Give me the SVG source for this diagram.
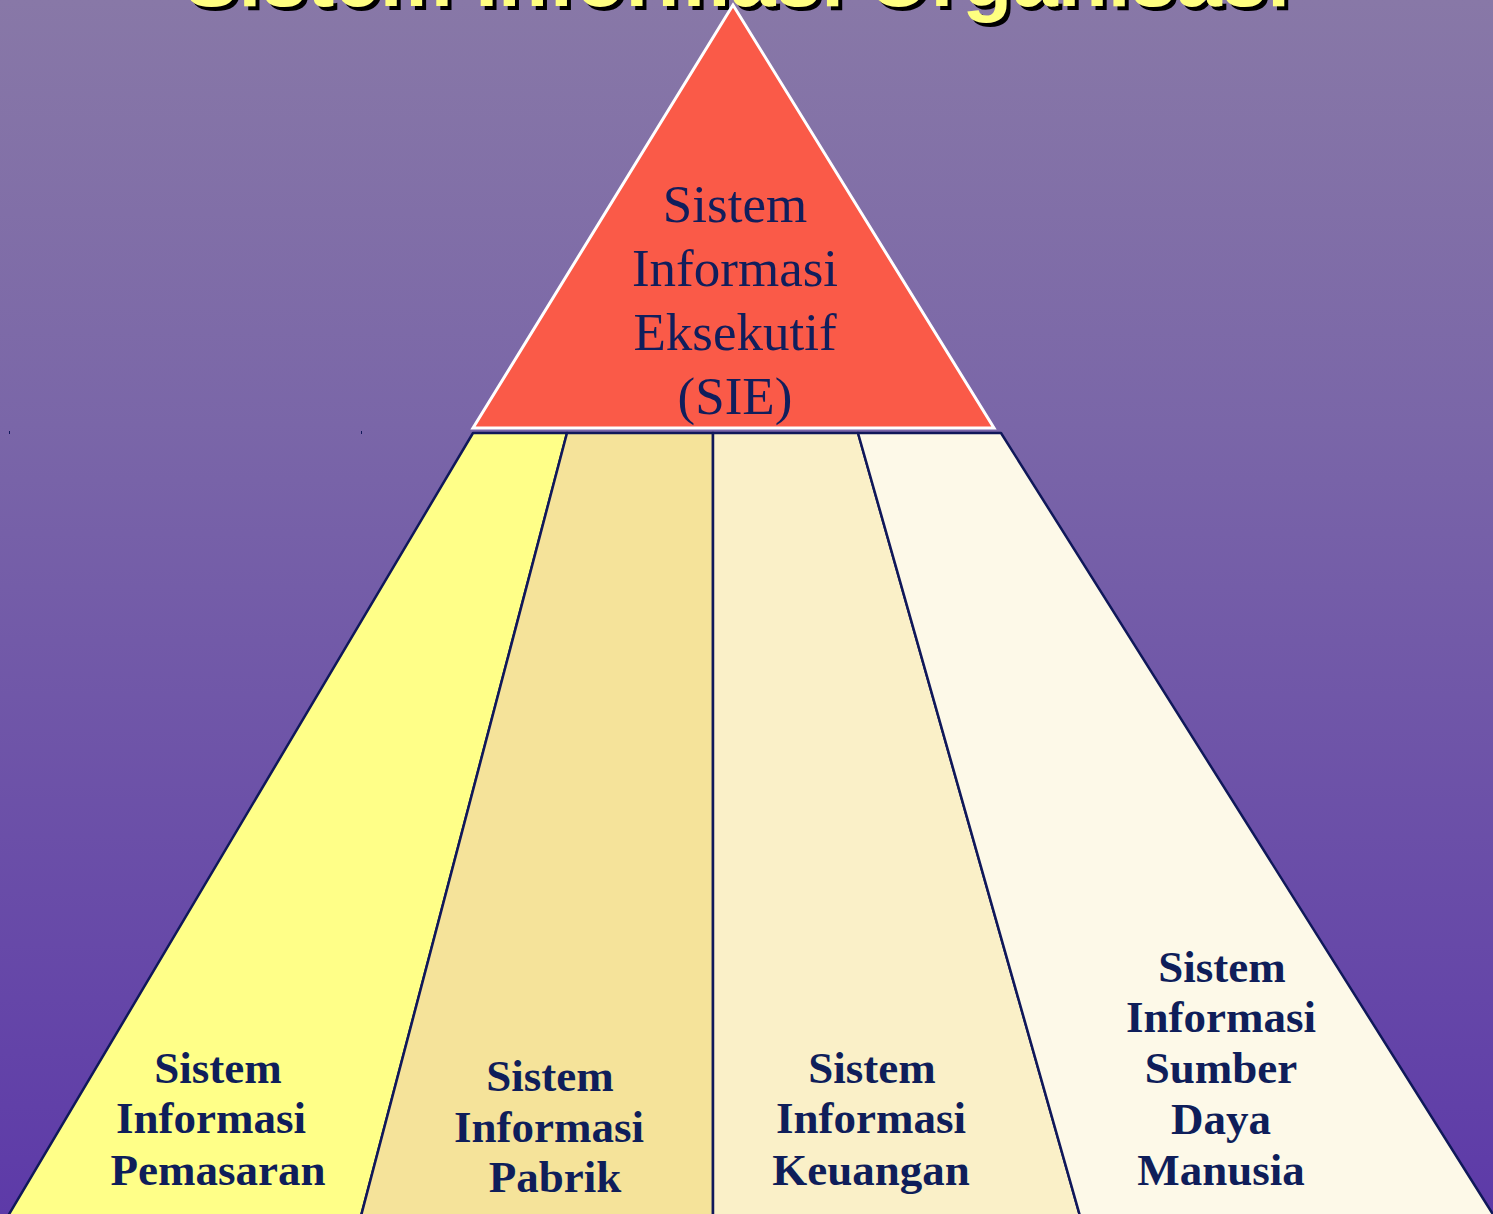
<svg xmlns="http://www.w3.org/2000/svg" width="1493" height="1214" viewBox="0 0 1493 1214">
  <defs>
    <linearGradient id="bg" x1="0" y1="0" x2="0" y2="1">
      <stop offset="0" stop-color="#8878A7"/>
      <stop offset="0.35" stop-color="#7A66A8"/>
      <stop offset="1" stop-color="#5D3AA8"/>
    </linearGradient>
  </defs>
  <style>
    .seg { stroke: #10185A; stroke-width: 2.5; stroke-linejoin: round; }
    .top { font-family: "Liberation Serif", "Times New Roman", serif; font-size: 53px; fill: #101E5C; text-anchor: middle; }
    .lbl { font-family: "Liberation Serif", "Times New Roman", serif; font-weight: bold; font-size: 45px; fill: #0F1E5A; text-anchor: middle; }
    .title { font-family: "Liberation Sans", Arial, sans-serif; font-weight: bold; font-size: 82px; text-anchor: middle; }
  </style>
  <rect x="0" y="0" width="1493" height="1214" fill="url(#bg)"/>

  <g id="title">
    <text class="title" x="741" y="10" fill="#000000" textLength="1106" lengthAdjust="spacingAndGlyphs">Sistem Informasi Organisasi</text>
    <text class="title" x="737" y="6" fill="#FFFF80" textLength="1106" lengthAdjust="spacingAndGlyphs">Sistem Informasi Organisasi</text>
  </g>

  <g id="node-sie">
    <polygon points="733,5 473,428 994,428" fill="#FA5A48" stroke="#FFFFFF" stroke-width="3" stroke-linejoin="miter"/>
    <text class="top" x="735" y="222">Sistem</text>
    <text class="top" x="735" y="286">Informasi</text>
    <text class="top" x="735" y="350">Eksekutif</text>
    <text class="top" x="735" y="414">(SIE)</text>
  </g>

  <g id="node-pemasaran">
    <polygon class="seg" points="473,433 567,433 361,1216 8,1216" fill="#FFFF88"/>
    <text class="lbl" x="218" y="1083">Sistem</text>
    <text class="lbl" x="211" y="1133">Informasi</text>
    <text class="lbl" x="218" y="1185">Pemasaran</text>
  </g>

  <g id="node-pabrik">
    <polygon class="seg" points="567,433 713,433 713,1216 361,1216" fill="#F5E39A"/>
    <text class="lbl" x="550" y="1091">Sistem</text>
    <text class="lbl" x="549" y="1142">Informasi</text>
    <text class="lbl" x="555" y="1192">Pabrik</text>
  </g>

  <g id="node-keuangan">
    <polygon class="seg" points="713,433 858,433 1080,1216 713,1216" fill="#FAF0C8"/>
    <text class="lbl" x="872" y="1083">Sistem</text>
    <text class="lbl" x="871" y="1133">Informasi</text>
    <text class="lbl" x="871" y="1185">Keuangan</text>
  </g>

  <g id="node-sdm">
    <polygon class="seg" points="858,433 1001,433 1494,1216 1080,1216" fill="#FDF9E8"/>
    <text class="lbl" x="1222" y="982">Sistem</text>
    <text class="lbl" x="1221" y="1032">Informasi</text>
    <text class="lbl" x="1221" y="1083">Sumber</text>
    <text class="lbl" x="1221" y="1134">Daya</text>
    <text class="lbl" x="1221" y="1185">Manusia</text>
  </g>

  <g id="connectors">
    <rect x="9" y="431" width="1" height="3" fill="#10185A"/>
    <rect x="361" y="431" width="1" height="3" fill="#10185A"/>
  </g>
</svg>
